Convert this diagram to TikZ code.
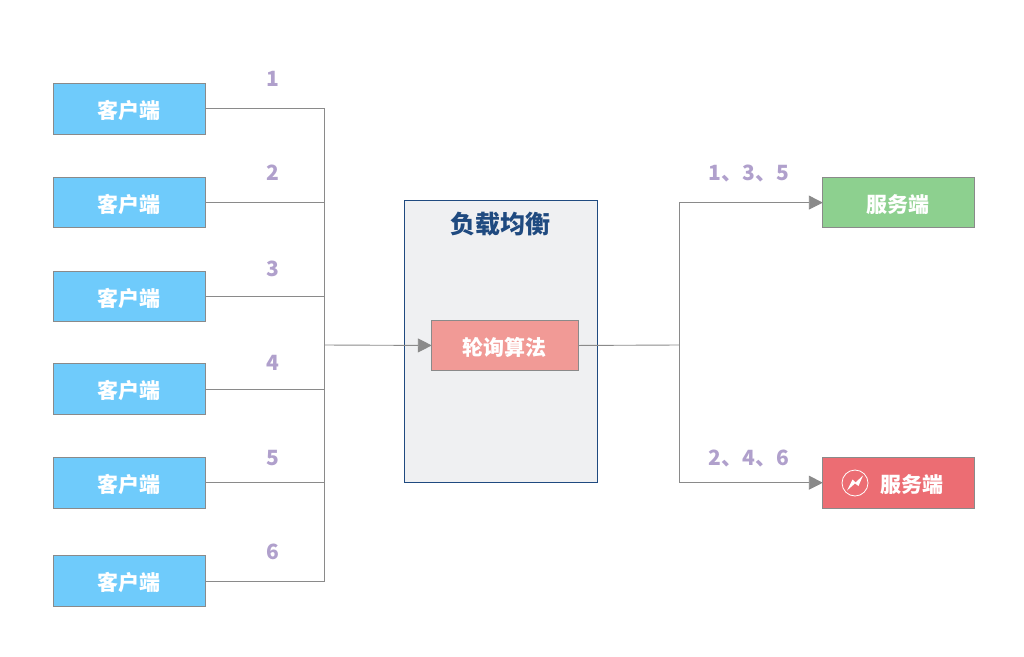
\documentclass[tikz,border=0pt]{standalone}
\usepackage{fontspec}
\setmainfont{Noto Sans CJK SC}
\usetikzlibrary{arrows.meta}
\definecolor{cblue}{HTML}{6FCBFB}
\definecolor{cgreen}{HTML}{8DD08F}
\definecolor{cred}{HTML}{EC6D73}
\definecolor{cpink}{HTML}{F19A96}
\definecolor{cpanel}{HTML}{EFF0F2}
\definecolor{cnavy}{HTML}{1F4A80}
\definecolor{cline}{HTML}{8A8A8A}
\definecolor{clabel}{HTML}{B0A0CC}
\tikzset{
  x=1pt,y=-1pt,
  boxbase/.style={draw=cline,line width=0.9pt,anchor=north west,inner sep=0pt,text=white,text height=19.5pt,text depth=0pt,font=\fontsize{21}{25}\selectfont\bfseries},
  client/.style={boxbase,fill=cblue,minimum width=152pt},
  server/.style={boxbase,minimum width=152pt,minimum height=50.5pt},
  link/.style={draw=cline,line width=0.9pt},
  arrowlink/.style={link,shorten >=-1pt,-{Triangle[length=14pt,width=14pt,fill=cline]}},
  numlabel/.style={text=clabel,inner sep=0pt,font=\fontsize{21}{25}\selectfont\bfseries},
}
\begin{document}
\begin{tikzpicture}
\useasboundingbox (0,0) rectangle (1024,656);
% clients
\node[client,minimum height=51pt] (c1) at (52.8,82.7) {客户端};
\node[client,minimum height=50pt] (c2) at (52.8,176.9) {客户端};
\node[client,minimum height=50pt] (c3) at (52.8,270.9) {客户端};
\node[client,minimum height=51pt] (c4) at (52.8,363.2) {客户端};
\node[client,minimum height=51pt] (c5) at (52.8,456.9) {客户端};
\node[client,minimum height=51pt] (c6) at (52.8,555.2) {客户端};
% panel
\node[draw=cnavy,fill=cpanel,line width=0.9pt,anchor=north west,inner sep=0pt,minimum width=193pt,minimum height=282pt] (lb) at (403.8,199.7) {};
\node[text=cnavy,inner sep=0pt,font=\fontsize{25}{29}\selectfont\bfseries] (lbt) at (500,224.5) {负载均衡};
\node[boxbase,fill=cpink,minimum width=147pt,minimum height=50pt] (algo) at (430.8,320) {轮询算法};
% servers
\node[server,fill=cgreen] (s1) at (821.8,176.9) {服务端};
\node[server,fill=cred] (s2) at (821.8,457) {};
\node[text=white,inner sep=0pt,font=\fontsize{21}{25}\selectfont\bfseries] (s2t) at (911.5,485) {服务端};
\node[draw=white,circle,line width=0.8pt,minimum size=26pt,inner sep=0pt] (ic) at (855,483) {};
\fill[white] (847,490.5) -- (852.5,479.5) -- (855.5,482.5) -- (863,475.5) -- (858.5,486) -- (855,483.5) -- cycle;
% junctions
\coordinate (jl) at (324,345);
\coordinate (jr) at (679,345);
% connectors
\draw[link] (c1.east) -| (jl);
\draw[link] (c6.east) -| (jl);
\draw[link] (c2.east) -- (c2.east -| jl);
\draw[link] (c3.east) -- (c3.east -| jl);
\draw[link] (c4.east) -- (c4.east -| jl);
\draw[link] (c5.east) -- (c5.east -| jl);
\draw[arrowlink] (jl) -- (algo.west);
\draw[link] (algo.east) -- (jr);
\draw[arrowlink] (jr) |- (s1.west);
\draw[arrowlink] (jr) |- (s2.west);
% labels
\node[numlabel] (n1) at (272.5,79) {1};
\node[numlabel] (n2) at (272.5,173) {2};
\node[numlabel] (n3) at (272.5,269) {3};
\node[numlabel] (n4) at (272.5,363) {4};
\node[numlabel] (n5) at (272.5,458) {5};
\node[numlabel] (n6) at (272.5,552) {6};
\node[numlabel] (r1) at (749,174) {1、3、5};
\node[numlabel] (r2) at (749,459) {2、4、6};
\end{tikzpicture}
\end{document}
